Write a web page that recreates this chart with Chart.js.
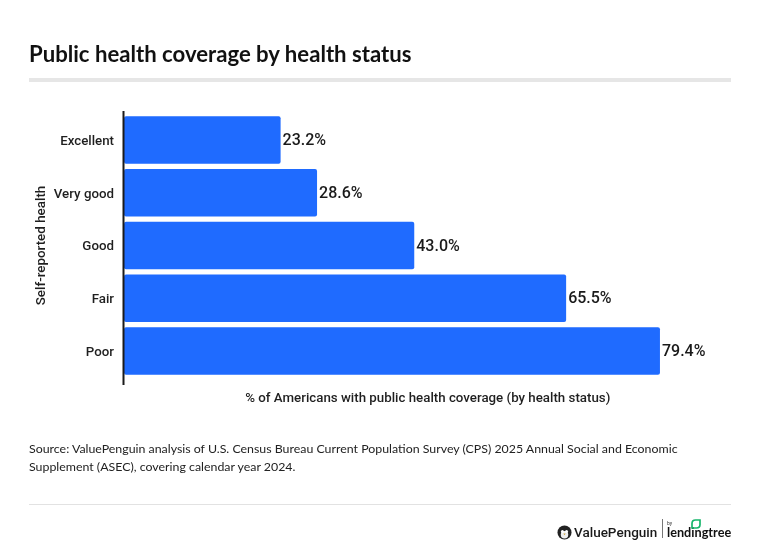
<!DOCTYPE html>
<html><head><meta charset="utf-8">
<script src="https://cdn.jsdelivr.net/npm/chart.js@4"></script>
<style>
html,body{margin:0;padding:0;background:#fff;width:760px;height:556px;overflow:hidden}
#wrap{position:relative;width:760px;height:556px}
canvas{position:absolute;left:0;top:0}
.t{position:absolute;white-space:nowrap;color:#1a1a1a}
#title{left:29px;top:40px;font:700 22.15px Lato;color:#111}
#rule1{position:absolute;left:29px;top:78px;width:702px;height:4px;background:#e6e6e6}
#source{left:29px;top:440px;font:400 12.37px/17.5px Lato;color:#222}
#rule2{position:absolute;left:29px;top:504px;width:702px;height:1px;background:#e2e2e2}
#vp{left:574px;top:524px;font:500 13.5px Roboto;color:#1a1a1a}
#by{left:667px;top:520px;font:400 5px Roboto;color:#333}
#lt{left:667px;top:524px;font:700 12.7px Lato;color:#111}
#sep{position:absolute;left:662px;top:519px;width:1px;height:19px;background:#777}
svg{position:absolute}
</style></head><body>
<div id="wrap">
<canvas id="c" width="760" height="556"></canvas>
<div class="t" id="title">Public health coverage by health status</div>
<div id="rule1"></div>
<div class="t" id="source">Source: ValuePenguin analysis of U.S. Census Bureau Current Population Survey (CPS) 2025 Annual Social and Economic<br>Supplement (ASEC), covering calendar year 2024.</div>
<div id="rule2"></div>
<svg style="left:557px;top:525px" width="15" height="15" viewBox="0 0 16 16"><circle cx="8" cy="8" r="7.5" fill="#222"/><ellipse cx="8" cy="10.5" rx="4" ry="4" fill="#eee"/><circle cx="5.8" cy="7" r="1.6" fill="#fff"/><circle cx="10.2" cy="7" r="1.6" fill="#fff"/><path d="M6.8 9h2.4L8 11z" fill="#c9a23a"/></svg>
<div class="t" id="vp">ValuePenguin</div>
<div id="sep"></div>
<div class="t" id="by">by</div>
<div class="t" id="lt">lendingtree</div>
<svg style="left:691px;top:519px" width="10" height="10" viewBox="0 0 10 10"><path d="M1 9V4.5C1 2.5 2.5 1 4.5 1H9v4.5C9 7.5 7.5 9 5.5 9z" fill="none" stroke="#16b56b" stroke-width="1.7"/></svg>
</div>
<script>
const categories = ["Excellent","Very good","Good","Fair","Poor"];
const coverage = [23.2,28.6,43.0,65.5,79.4];
const xTitle = "% of Americans with public health coverage (by health status)";
const yTitle = "Self-reported health";
const BLUE = "#1f6bff", INK = "#1f1f1f";

const extras = {
  id:"extras",
  afterDatasetsDraw(ch){
    const {ctx,scales:{x,y}} = ch;
    ctx.save();
    ctx.fillStyle = "#1a1a1a";
    ctx.font = "500 16px Roboto";
    ctx.textAlign = "left"; ctx.textBaseline = "middle";
    coverage.forEach((v,i)=>ctx.fillText(v.toFixed(1)+"%", x.getPixelForValue(v)+2, y.getPixelForValue(i)+1));
    ctx.strokeStyle = "#1a1a1a"; ctx.lineWidth = 2;
    const ax = x.getPixelForValue(0);
    ctx.beginPath(); ctx.moveTo(ax-0.5,111); ctx.lineTo(ax-0.5,385); ctx.stroke();
    ctx.restore();
  }
};

new Chart(document.getElementById("c"),{
  type:"bar",
  data:{labels:categories,datasets:[{data:coverage,backgroundColor:BLUE,borderWidth:0,borderRadius:2,borderSkipped:false,categoryPercentage:0.9,barPercentage:1}]},
  plugins:[extras],
  options:{
    indexAxis:"y",responsive:false,animation:false,devicePixelRatio:1,
    layout:{padding:{left:34,right:28.5,top:113.6,bottom:140}},
    plugins:{legend:{display:false},tooltip:{enabled:false}},
    scales:{
      x:{min:0,max:90,display:true,grid:{display:false,drawTicks:false},border:{display:false},
         ticks:{display:false},
         title:{display:true,text:xTitle,color:INK,font:{family:"Roboto",weight:"500",size:13.3},padding:{top:1,bottom:9.5}},
         afterFit(s){s.height=38.6}},
      y:{grid:{display:false,drawTicks:false},border:{display:false},
         ticks:{color:INK,font:{family:"Roboto",weight:"500",size:13.3},padding:10,autoSkip:false,labelOffset:1.5},
         title:{display:true,text:yTitle,color:INK,font:{family:"Roboto",weight:"500",size:13.4},padding:0},
         afterFit(s){s.width=90}}
    }
  }
});
</script>
</body></html>
